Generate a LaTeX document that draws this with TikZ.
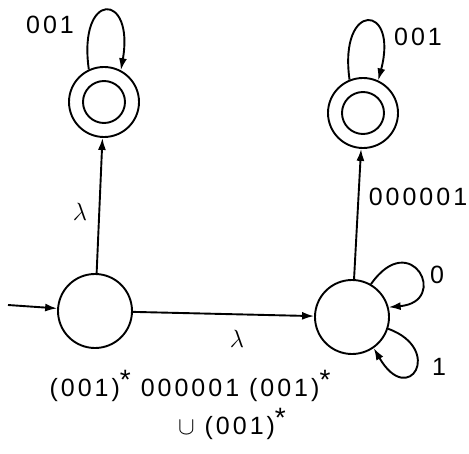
\documentclass[tikz,border=0pt]{standalone}
\usepackage{fontspec}
\setmainfont{Liberation Sans}
\usetikzlibrary{arrows.meta}
\begin{document}
\begin{tikzpicture}[x=1pt,y=1pt,
  >={Latex[length=12pt,width=8pt]},
  lw/.style={line width=1.9pt},
  state/.style={circle,draw,lw,minimum size=74pt,inner sep=0pt},
  accept/.style={circle,draw,lw,minimum size=70pt,inner sep=0pt},
  inner/.style={circle,draw,lw,minimum size=42pt,inner sep=0pt},
  lbl/.style={font=\fontsize{25}{28}\selectfont,inner sep=0pt},
  wide/.style={font=\fontsize{25}{28}\selectfont\addfontfeature{LetterSpace=12},inner sep=0pt}]
\newcommand\mystar{\raisebox{7pt}{\fontsize{28}{28}\selectfont *}}
\useasboundingbox (0,0) rectangle (469,453);
\node[accept] (tl) at (104,351) {};
\node[accept] (tr) at (363,340) {};
\node[inner] (tli) at (tl.center) {};
\node[inner] (tri) at (tr.center) {};
\node[state] (bl) at (95,142) {};
\node[state] (br) at (352,136) {};
\coordinate (start) at (8,148);
% edges
\draw[lw,->] (start) -- (bl);
\draw[lw,->] (bl) -- (br);
\draw[lw,->] (bl) -- (tl);
\draw[lw,->] (br) -- (tr);
% loops
\draw[lw,->] (tl.115) .. controls +(98:80) and +(80:80) .. (tl.62);
\draw[lw,->] (tr.112) .. controls +(98:80) and +(75:80) .. (tr.65);
\draw[lw,->] (br.60) .. controls +(55:70) and +(5:62) .. (br.15);
\draw[lw,->] (br.-18) .. controls +(-20:60) and +(-60:70) .. (br.-55);
% labels
\node[lbl,font=\fontsize{30}{32}\selectfont] (l1) at (80,241) {$\lambda$};
\node[lbl,font=\fontsize{30}{32}\selectfont] (l2) at (237,114) {$\lambda$};
\node[wide] (l3) at (50,428) {001};
\node[wide] (l4) at (418,416) {001};
\node[wide] (l5) at (418,256) {000001};
\node[lbl] (l6) at (437,178) {0};
\node[lbl] (l7) at (439,86) {1};
\node[wide] (l8) at (190,67) {(001)\mystar\ 000001 (001)\mystar};
\node[wide] (l9) at (232,29) {$\cup$ (001)\mystar};
\end{tikzpicture}
\end{document}
